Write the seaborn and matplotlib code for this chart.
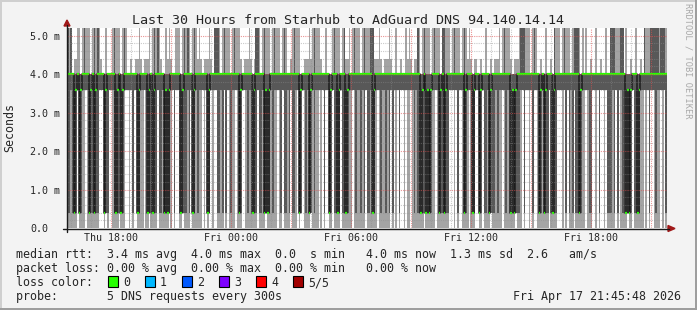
import numpy as np
import pandas as pd
import matplotlib
matplotlib.use("Agg")
import matplotlib.pyplot as plt
import matplotlib.transforms as mtrans
from matplotlib.patches import Rectangle, Polygon
from matplotlib.lines import Line2D
import seaborn as sns

# ---------------- data (5-minute steps, 30 hours, start Thu 15:48) ----------------
step_hours = 1 / 12
# sorted ping times per step (ms): lowest, 2nd, median, 4th, highest
lo = [0,0,0,0,0,0,3.6,0,0,0,0,3.6,0,0,0,0,0,0,0,3.6,
      3.6,3.6,0,.4,0,3.6,3.6,0,0,0,0,3.6,0,0,0,3.6,3.6,0,3.6,0,
      3.6,3.6,0,0,0,0,3.6,0,0,.4,0,0,0,0,3.6,0,0,0,0,0,
      0,.4,0,3.6,0,3.6,3.6,0,0,.4,0,0,0,0,3.6,0,0,0,0,0,
      0,3.6,0,3.6,0,.4,3.6,0,3.6,3.6,0,0,0,0,3.6,0,3.6,0,0,0,
      0,3.6,0,0,0,3.6,3.6,0,0,0,0,0,0,0,3.6,0,0,0,0,.4,
      0,0,0,0,0,0,3.6,0,0,3.6,0,0,0,0,3.6,0,0,0,3.6,0,
      .4,3.6,0,0,0,0,.4,0,0,0,0,3.6,0,3.6,0,3.6,3.6,0,0,3.6,
      0,0,0,0,3.6,0,0,0,0,0,0,3.6,0,0,0,0,0,0,0,3.6,
      0,0,0,0,0,0,3.6,0,0,0,0,0,0,0,3.6,0,3.6,0,3.6,0,
      3.6,3.6,0,3.6,0,0,3.6,0,0,0,0,0,0,0,3.6,0,0,0,0,0,
      0,3.6,0,0,0,0,0,0,0,3.6,3.6,3.6,0,3.6,0,3.6,3.6,0,0,0,
      0,3.6,0,0,0,3.6,3.6,0,0,3.6,0,0,0,0,.4,0,0,0,0,0,
      0,3.6,0,0,0,0,0,0,0,.4,0,0,0,3.6,0,3.6,3.6,0,3.6,0,
      3.6,3.6,0,0,0,0,0,0,0,3.6,0,0,0,0,3.6,3.6,3.6,0,3.6,0,
      3.6,0,0,0,3.6,0,0,0,0,0,0,3.6,0,0,0,3.6,3.6,0,3.6,0,
      3.6,3.6,0,3.6,0,0,0,0,0,3.6,0,3.6,0,0,0,0,.4,0,0,3.6,
      0,0,0,0,0,0,3.6,0,3.6,0,3.6,3.6,0,0,0,0,3.6,0,3.6,0]
q1 = [.4,.4,3.6,.4,.4,.4,3.6,.4,.4,3.6,3.6,3.6,3.6,.4,.4,.4,.4,.4,.4,3.6,
      3.6,3.6,.4,.4,.4,3.6,3.6,3.6,.4,.4,.4,3.6,.4,.4,3.6,3.6,3.6,3.6,3.6,.4,
      3.6,3.6,.4,.4,3.6,3.6,3.6,3.6,.4,.4,.4,.4,.4,.4,3.6,.4,.4,3.6,.4,.4,
      .4,.4,3.6,3.6,.4,3.6,3.6,3.6,.4,.4,.4,.4,3.6,.4,3.6,.4,.4,3.6,.4,3.6,
      3.6,3.6,3.6,3.6,.4,.4,3.6,3.6,3.6,3.6,.4,.4,3.6,.4,3.6,.4,3.6,3.6,.4,3.6,
      3.6,3.6,3.6,.4,.4,3.6,3.6,3.6,.4,3.6,3.6,.4,.4,.4,3.6,.4,.4,3.6,.4,.4,
      .4,.4,3.6,.4,3.6,3.6,3.6,3.6,.4,3.6,.4,.4,3.6,.4,3.6,.4,.4,3.6,3.6,.4,
      .4,3.6,3.6,.4,3.6,.4,.4,3.6,.4,3.6,3.6,3.6,3.6,3.6,.4,3.6,3.6,.4,.4,3.6,
      .4,.4,.4,.4,3.6,.4,.4,.4,.4,3.6,3.6,3.6,3.6,.4,3.6,3.6,.4,3.6,.4,3.6,
      .4,.4,3.6,.4,.4,3.6,3.6,3.6,.4,3.6,3.6,.4,3.6,.4,3.6,.4,3.6,3.6,3.6,.4,
      3.6,3.6,3.6,3.6,3.6,3.6,3.6,3.6,.4,3.6,.4,.4,.4,.4,3.6,.4,.4,.4,.4,3.6,
      3.6,3.6,3.6,.4,.4,.4,.4,.4,.4,3.6,3.6,3.6,3.6,3.6,.4,3.6,3.6,3.6,.4,.4,
      3.6,3.6,3.6,.4,.4,3.6,3.6,.4,.4,3.6,.4,.4,3.6,.4,.4,.4,.4,3.6,.4,3.6,
      3.6,3.6,3.6,.4,3.6,3.6,.4,.4,.4,.4,.4,.4,3.6,3.6,.4,3.6,3.6,3.6,3.6,.4,
      3.6,3.6,3.6,.4,.4,3.6,.4,.4,.4,3.6,.4,.4,.4,.4,3.6,3.6,3.6,3.6,3.6,.4,
      3.6,.4,3.6,.4,3.6,.4,.4,.4,.4,3.6,3.6,3.6,3.6,.4,.4,3.6,3.6,3.6,3.6,.4,
      3.6,3.6,3.6,3.6,.4,.4,.4,3.6,.4,3.6,.4,3.6,3.6,.4,3.6,.4,.4,.4,.4,3.6,
      .4,.4,.4,.4,3.6,3.6,3.6,3.6,3.6,.4,3.6,3.6,3.6,.4,3.6,3.6,3.6,3.6,3.6,.4]
med = [4,4,4,4,.4,3.6,4,.4,3.6,4,4,4,4,.4,3.6,4,.4,3.6,4,4,
       4,4,.4,3.6,4,4,4,4,4,.4,3.6,4,.4,3.6,4,4,4,4,4,4,
       4,4,.4,3.6,4,4,4,4,.4,3.6,4,.4,3.6,4,4,4,4,4,.4,3.6,
       .4,3.6,4,4,4,4,4,4,.4,3.6,4,4,4,4,4,.4,3.6,4,4,4,
       4,4,4,4,.4,3.6,4,4,4,4,4,4,4,4,4,4,4,4,4,4,
       4,4,4,.4,3.6,4,4,4,4,4,4,.4,3.6,4,4,4,4,4,.4,3.6,
       .4,3.6,4,4,4,4,4,4,4,4,4,4,4,4,4,4,4,4,4,.4,
       3.6,4,4,4,4,.4,3.6,4,4,4,4,4,4,4,4,4,4,.4,3.6,4,
       4,4,.4,3.6,4,4,4,.4,3.6,4,4,4,4,4,4,4,4,4,4,4,
       4,4,4,.4,3.6,4,4,4,4,4,4,4,4,4,4,4,4,4,4,4,
       4,4,4,4,4,4,4,4,4,4,4,4,.4,3.6,4,.4,3.6,.4,3.6,4,
       4,4,4,.4,3.6,4,.4,3.6,4,4,4,4,4,4,4,4,4,4,.4,3.6,
       4,4,4,.4,3.6,4,4,.4,3.6,4,4,4,4,.4,3.6,4,4,4,4,4,
       4,4,4,4,4,4,.4,3.6,.4,3.6,4,4,4,4,4,4,4,4,4,4,
       4,4,4,.4,3.6,4,.4,3.6,4,4,4,.4,3.6,4,4,4,4,4,4,4,
       4,4,4,4,4,4,4,.4,3.6,4,4,4,4,4,4,4,4,4,4,4,
       4,4,4,4,4,4,4,4,4,4,4,4,4,4,4,.4,3.6,.4,3.6,4,
       4,4,.4,3.6,4,4,4,4,4,4,4,4,4,4,4,4,4,4,4,4]
q3 = [6,4,6,4,4,4,4,4,4,4,6,4,4,4,4,4,6,4,6,4,
      4,4,4,4,4,4,4,4,6,4,4,4,4,4,6,4,4,4,4,4,
      4,4,4,4,4,4,4,4,4,4,4,4,6,4,6,4,4,4,4,4,
      4,4,4,4,4,4,4,4,4,4,6,4,6,4,4,4,6,4,4,4,
      4,4,4,4,4,4,4,4,6,6,6,4,4,4,6,4,4,4,4,4,
      6,4,4,4,4,4,4,4,4,4,4,4,4,6,6,4,4,4,6,4,
      4,4,4,4,6,4,4,4,4,4,6,4,4,4,4,4,6,4,4,4,
      4,4,4,4,4,4,4,4,6,4,4,4,4,4,4,4,4,4,4,4,
      6,4,4,4,4,4,6,4,4,4,4,4,6,4,4,4,4,4,6,4,
      4,4,6,6,4,4,4,4,4,4,4,4,4,4,4,4,4,4,4,4,
      4,4,4,4,4,4,4,4,4,4,6,4,4,4,6,4,4,4,4,4,
      6,4,4,4,4,6,6,4,4,4,4,4,6,4,4,4,4,4,6,4,
      4,4,4,4,4,4,4,4,4,4,4,4,4,4,4,4,4,4,4,4,
      4,4,6,4,4,4,4,4,4,4,4,4,6,6,6,4,4,4,4,4,
      6,4,4,4,4,4,4,4,4,4,4,4,6,4,4,4,4,4,6,4,
      4,4,4,4,6,6,6,4,4,4,4,4,4,4,4,4,4,4,4,4,
      4,4,4,4,4,4,6,6,6,4,4,4,6,6,4,4,4,4,4,4,
      4,4,4,4,4,4,6,4,4,4,6,6,6,6,6,4,6,6,6,4]
hi = [6,6,6,4,4.4,4.4,6,6,4,6,6,6,6,6,4,6,6,6,6,6,
      4.4,4,4,6,4,4,4,6,6,6,6,6,4,6,6,6,4,4,4.4,4,
      4,4.4,4.4,6,4.4,4,4.4,4.4,4.4,6,4,6,6,6,6,6,4.4,4,4,6,
      4.4,6,4.4,4,4,6,6,6,4,6,6,6,6,6,4,6,6,6,4.4,6,
      4.4,4,4.4,4.4,4.4,6,4.4,4,6,6,6,6,4,6,6,6,6,6,4,6,
      6,6,6,6,4.4,4,4.4,4.4,4.4,6,4.4,4,4.4,6,6,6,4,6,6,6,
      6,6,4,6,6,6,6,6,4,6,6,6,4,4,4.4,6,6,6,6,6,
      4,4,4.4,4.4,4.4,6,4.4,6,6,6,6,6,4.4,4,4,6,4,4,4,6,
      6,6,6,6,4,6,6,4.4,4.4,6,4,6,6,6,6,6,4,6,6,6,
      6,6,6,6,4.4,4.4,4.4,6,4.4,4,4.4,4.4,4.4,6,4.4,4,4,6,4,4,
      4.4,4,4,6,4.4,6,4.4,4,4.4,4.4,6,6,4,6,6,6,6,6,4,6,
      6,6,6,6,4,6,6,6,6,6,4,6,6,6,6,6,4,6,6,6,
      4.4,6,4.4,4,4.4,4.4,4,4,4.4,4,4,6,4,4,4.4,4,4.4,4.4,4.4,6,
      4,6,6,6,6,6,4.4,4,4.4,4.4,4.4,6,6,6,6,6,6,6,4,6,
      6,6,4,4,4.4,4,4,6,4,4,4.4,4,6,6,6,6,4,6,6,6,
      6,6,4,6,6,6,6,6,4,6,4,6,4,4,4.4,4,4,6,4,4,
      4.4,4,4,6,4,4,6,6,6,6,6,6,6,6,4,6,4,4,4.4,4,
      4,6,4,4,4.4,4,6,6,6,6,6,6,6,6,6,6,6,6,6,6]

x_tick_pos = [2.2, 8.2, 14.2, 20.2, 26.2]
x_tick_labels = ["Thu 18:00", "Fri 00:00", "Fri 06:00", "Fri 12:00", "Fri 18:00"]
y_ticks = [0, 1, 2, 3, 4, 5]
y_tick_labels = ["0.0", "1.0 m", "2.0 m", "3.0 m", "4.0 m", "5.0 m"]
loss_labels = ["0", "1", "2", "3", "4", "5/5"]
loss_colors = ["#26ff00", "#00b8ff", "#0059ff", "#7e00ff", "#ff0000", "#a10000"]

title = "Last 30 Hours from Starhub to AdGuard DNS 94.140.14.14"
line_rtt = "median rtt:  3.4 ms avg  4.0 ms max  0.0  s min   4.0 ms now  1.3 ms sd  2.6   am/s"
line_loss = "packet loss: 0.00 % avg  0.00 % max  0.00 % min   0.00 % now"
line_color = "loss color:"
line_probe = "probe:       5 DNS requests every 300s"
stamp = "Fri Apr 17 21:45:48 2026"
ylabel = "Seconds"
watermark = "RRDTOOL / TOBI OETIKER"

# ---------------- drawing ----------------
sns.set_style("white")
plt.rcParams['font.family'] = ['DejaVu Sans Mono']

W, H = 697, 310
fig = plt.figure(figsize=(W / 100, H / 100), dpi=100)
fig.patch.set_facecolor('#f3f3f3')

def fx(px):
    return px / W

def fy(py):
    return 1 - py / H

L, R, T, B = 67, 667, 28, 228
ax = fig.add_axes([fx(L), fy(B), (R - L) / W, (B - T) / H])
ax.set_facecolor('white')

lo_a, q1_a, med_a, q3_a, hi_a = (np.array(v, dtype=float) for v in (lo, q1, med, q3, hi))
n = len(med_a)
t = np.arange(n) * step_hours

ax.bar(t, hi_a - lo_a, bottom=lo_a, width=step_hours, align='edge',
       color='#a4a4a4', linewidth=0, zorder=1)
ax.bar(t, q3_a - q1_a, bottom=q1_a, width=step_hours, align='edge',
       color='#585858', linewidth=0, zorder=2)

df = pd.DataFrame({'t': np.append(t, n * step_hours), 'med': np.append(med_a, med_a[-1])})
sns.lineplot(data=df, x='t', y='med', drawstyle='steps-post', color='#1c1c1c',
             lw=1.1, ax=ax, zorder=3, estimator=None, sort=False)
ax.hlines(med_a, t, t + step_hours, color='#26ff00', lw=1.6, zorder=4)

ax.set_xlim(0, 30)
ax.set_ylim(0, 5.2)
ax.set_xlabel('')
ax.set_ylabel('')
ax.set_xticks([])
ax.set_yticks([])
for sp in ax.spines.values():
    sp.set_visible(False)

dot = (0, (1, 1))
for yv in np.arange(0.2, 5.2, 0.2):
    if abs(yv - round(yv)) > 1e-6:
        ax.axhline(yv, color='#8c8c8c', alpha=0.45, lw=0.8, ls=dot, zorder=5)
for yv in y_ticks[1:]:
    ax.axhline(yv, color='#de5050', alpha=0.6, lw=0.8, ls=dot, zorder=6)
for xv in np.arange(0.2, 30, 1.0):
    if abs(((xv - 2.2) / 3) - round((xv - 2.2) / 3)) > 1e-6:
        ax.axvline(xv, color='#8c8c8c', alpha=0.45, lw=0.8, ls=dot, zorder=5)
for xv in np.arange(2.2, 30, 3.0):
    ax.axvline(xv, color='#de5050', alpha=0.6, lw=0.8, ls=dot, zorder=6)

# axes lines and arrows
fig.add_artist(Line2D([fx(63), fx(669)], [fy(228.5), fy(228.5)], color='#1a1a1a', lw=1.0))
fig.add_artist(Line2D([fx(67), fx(67)], [fy(232), fy(25)], color='#1a1a1a', lw=1.0))
fig.add_artist(Polygon([[fx(668), fy(225.5)], [fx(675), fy(228.5)], [fx(668), fy(231.5)]],
                       closed=True, color='#a01818', transform=fig.transFigure))
fig.add_artist(Polygon([[fx(64), fy(26)], [fx(67), fy(20)], [fx(70), fy(26)]],
                       closed=True, color='#a01818', transform=fig.transFigure))

# tick labels
xtr = mtrans.blended_transform_factory(ax.transData, fig.transFigure)
for pos, lab in zip(x_tick_pos, x_tick_labels):
    ax.text(pos, fy(241), lab, transform=xtr, ha='center', va='baseline', fontsize=7.2)
ytr = mtrans.blended_transform_factory(fig.transFigure, ax.transData)
for pos, lab in zip(y_ticks, y_tick_labels):
    ax.text(fx(30), pos, lab, transform=ytr, ha='left', va='center_baseline', fontsize=7.2)

# titles
fig.text(fx(348), fy(24), title, ha='center', va='baseline', fontsize=9.6)
fig.text(fx(10), fy(128), ylabel, rotation=90, ha='center', va='center', fontsize=8.4)
fig.text(fx(688), fy(61), watermark, rotation=270, ha='center', va='center',
         fontsize=6.2, color='#a8a8a8')

# legend
fs = 8.37
fig.text(fx(16), fy(258), line_rtt, ha='left', va='baseline', fontsize=fs)
fig.text(fx(16), fy(272), line_loss, ha='left', va='baseline', fontsize=fs)
fig.text(fx(16), fy(286), line_color, ha='left', va='baseline', fontsize=fs)
fig.text(fx(16), fy(300), line_probe, ha='left', va='baseline', fontsize=fs)
fig.text(fx(681), fy(300), stamp, ha='right', va='baseline', fontsize=fs)
for i, (lab, col) in enumerate(zip(loss_labels, loss_colors)):
    bx = 108 + 37 * i
    fig.add_artist(Rectangle((fx(bx), fy(287)), 10 / W, 11 / H, facecolor=col,
                             edgecolor='black', lw=0.8, transform=fig.transFigure))
    fig.text(fx(bx + 15), fy(286), lab, ha='left', va='baseline', fontsize=fs)

# frame
fig.add_artist(Rectangle((0, fy(2)), 1, 2 / H, facecolor='#cfcfcf', lw=0, transform=fig.transFigure))
fig.add_artist(Rectangle((0, 0), 2 / W, 1, facecolor='#cfcfcf', lw=0, transform=fig.transFigure))
fig.add_artist(Rectangle((0, 0), 1, 2 / H, facecolor='#9e9e9e', lw=0, transform=fig.transFigure))
fig.add_artist(Rectangle((fx(695), 0), 2 / W, 1, facecolor='#9e9e9e', lw=0, transform=fig.transFigure))

fig.savefig('out.png', dpi=100, facecolor=fig.get_facecolor())
